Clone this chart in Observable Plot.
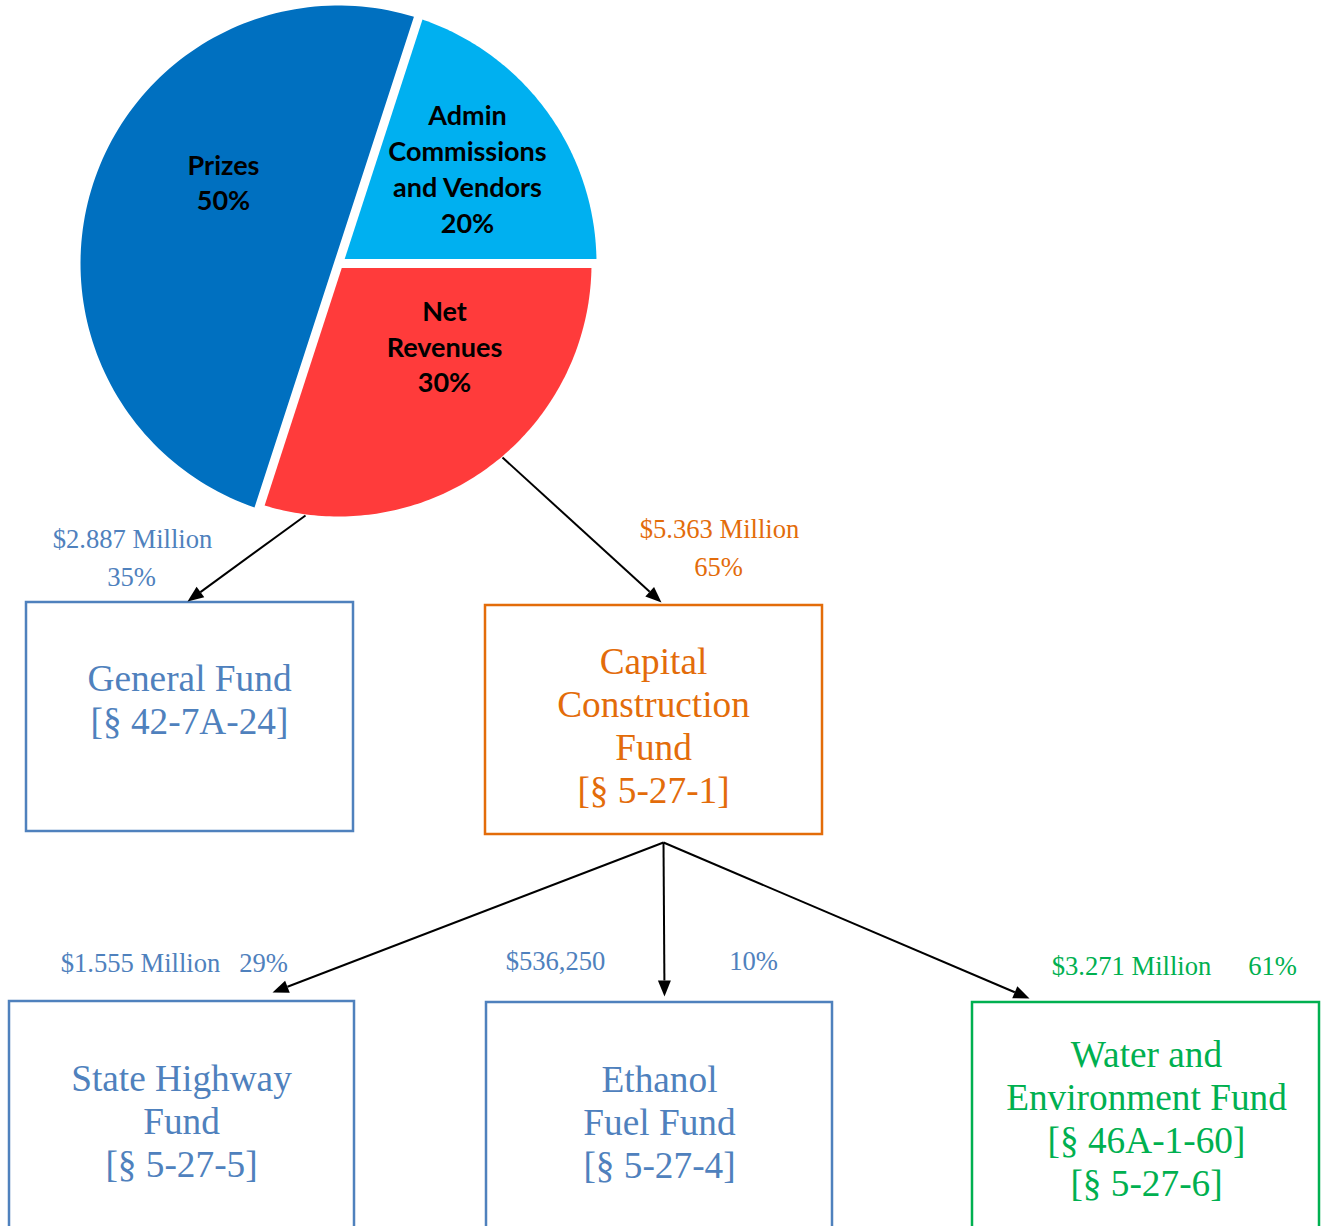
<!DOCTYPE html>
<html>
<head>
<meta charset="utf-8">
<script src="https://cdn.jsdelivr.net/npm/d3@7"></script>
<script src="https://cdn.jsdelivr.net/npm/@observablehq/plot@0.6"></script>
<style>
  html, body { margin: 0; padding: 0; background: #ffffff; overflow: hidden; }
  #chart svg { display: block; }
</style>
</head>
<body>
<div id="chart"></div>
<script>
// ---------- DATA ----------
const sliceNames  = ["Admin\nCommissions\nand Vendors", "Net\nRevenues", "Prizes"];
const sliceShares = [20, 30, 50];

const fundNames = [
  "General Fund\n[§ 42-7A-24]",
  "Capital\nConstruction\nFund\n[§ 5-27-1]",
  "State Highway\nFund\n[§ 5-27-5]",
  "Ethanol\nFuel Fund\n[§ 5-27-4]",
  "Water and\nEnvironment Fund\n[§ 46A-1-60]\n[§ 5-27-6]"
];
const flowAmounts = ["$2.887 Million", "$5.363 Million", "$1.555 Million", "$536,250", "$3.271 Million"];
const flowShares  = ["35%", "65%", "29%", "10%", "61%"];

// ---------- LAYOUT / STYLE ----------
const W = 1321, H = 1226;
const sliceColors = ["#00b0f0", "#ff3b3b", "#0070c0"];
const sliceRadius = [258, 253, 258];
const pieCenter = [338, 263];
const pieGap = 4.5;
const pieStart = 0.1 * Math.PI;
const sliceLabelPos = [[467, 167], [444, 344.5], [223, 180.5]];

const fundColors = ["#4f81bd", "#e36c0a", "#4f81bd", "#4f81bd", "#00b050"];
const fundBoxes = [ // x1, y1, x2, y2
  [26, 602, 353, 831],
  [485, 605, 822, 834],
  [9, 1001, 354, 1240],
  [486, 1002, 832, 1240],
  [972, 1002, 1319, 1240]
];
const fundTextPos = [[189, 698.5], [653, 724], [181, 1119.5], [659, 1120.5], [1146, 1117.5]];
const amountPos = [[132, 539], [719, 529], [140, 963], [555, 961], [1131, 966]];
const sharePos  = [[131, 577], [718, 567], [263, 963], [753, 961], [1272, 966]];

const arrows = [ // x1, y1, x2, y2 (tip)
  [305, 515, 187, 601],
  [502, 457, 661, 602],
  [663, 842, 272, 992],
  [663, 842, 664, 996],
  [663, 842, 1029, 998]
];

// ---------- PIE GEOMETRY ----------
const arcs = d3.pie().sort(null).startAngle(pieStart).endAngle(pieStart + 2 * Math.PI)(sliceShares);
function slicePolygon(a0, a1, r, g, cx, cy) {
  const half = (a1 - a0) / 2, mid = (a0 + a1) / 2;
  const dist = half >= Math.PI / 2 ? g : g / Math.sin(half);
  const pts = [{x: cx + dist * Math.sin(mid), y: cy - dist * Math.cos(mid)}];
  const d = Math.asin(g / r);
  const s = a0 + d, e = a1 - d, n = 120;
  for (let i = 0; i <= n; i++) {
    const a = s + (e - s) * i / n;
    pts.push({x: cx + r * Math.sin(a), y: cy - r * Math.cos(a)});
  }
  return pts;
}
const sliceMarks = arcs.map((a, i) =>
  Plot.line(slicePolygon(a.startAngle, a.endAngle, sliceRadius[i], pieGap, pieCenter[0], pieCenter[1]),
    {x: "x", y: "y", fill: sliceColors[i], stroke: "none", curve: "linear-closed"})
);
const sliceLabels = sliceNames.map((n, i) => ({
  text: n + "\n" + sliceShares[i] + "%", x: sliceLabelPos[i][0], y: sliceLabelPos[i][1]
}));

// ---------- FLOW GEOMETRY ----------
const boxes = fundNames.map((n, i) => ({
  x1: fundBoxes[i][0], y1: fundBoxes[i][1], x2: fundBoxes[i][2], y2: fundBoxes[i][3], color: fundColors[i]
}));
const fundTexts = fundNames.map((n, i) => ({text: n, x: fundTextPos[i][0], y: fundTextPos[i][1], color: fundColors[i]}));
const amountTexts = flowAmounts.map((t, i) => ({text: t, x: amountPos[i][0], y: amountPos[i][1], color: fundColors[i]}));
const shareTexts = flowShares.map((t, i) => ({text: t, x: sharePos[i][0], y: sharePos[i][1], color: fundColors[i]}));

const headLen = 16, headHalf = 6.5;
const shafts = [], heads = [];
arrows.forEach(([x1, y1, x2, y2], i) => {
  const dx = x2 - x1, dy = y2 - y1, L = Math.hypot(dx, dy);
  const ux = dx / L, uy = dy / L;
  const bx = x2 - ux * headLen, by = y2 - uy * headLen;
  shafts.push({x1, y1, x2: bx, y2: by});
  heads.push({id: i, x: x2, y: y2});
  heads.push({id: i, x: bx - uy * headHalf, y: by + ux * headHalf});
  heads.push({id: i, x: bx + uy * headHalf, y: by - ux * headHalf});
});

// ---------- PLOT ----------
const serif = "'Liberation Serif', 'Times New Roman', serif";
const chart = Plot.plot({
  width: W, height: H, margin: 0,
  x: {domain: [0, W], range: [0, W], axis: null},
  y: {domain: [0, H], range: [0, H], axis: null},
  style: {background: "#ffffff"},
  marks: [
    ...sliceMarks,
    Plot.text(sliceLabels, {x: "x", y: "y", text: "text", fill: "#000000", fontSize: 27, fontWeight: "bold",
      fontFamily: "Lato, 'Open Sans', sans-serif", lineHeight: 1.33}),
    Plot.rect(boxes, {x1: "x1", y1: "y1", x2: "x2", y2: "y2", fill: "none", stroke: d => d.color, strokeWidth: 2.5, clip: true}),
    Plot.link(shafts, {x1: "x1", y1: "y1", x2: "x2", y2: "y2", stroke: "#000000", strokeWidth: 2}),
    Plot.line(heads, {x: "x", y: "y", z: "id", fill: "#000000", stroke: "none", curve: "linear-closed"}),
    Plot.text(fundTexts, {x: "x", y: "y", text: "text", fill: d => d.color, fontSize: 37.3, fontFamily: serif, lineHeight: 1.15}),
    Plot.text(amountTexts, {x: "x", y: "y", text: "text", fill: d => d.color, fontSize: 26.6, fontFamily: serif}),
    Plot.text(shareTexts, {x: "x", y: "y", text: "text", fill: d => d.color, fontSize: 26.6, fontFamily: serif})
  ]
});
document.getElementById("chart").appendChild(chart);
</script>
</body>
</html>
